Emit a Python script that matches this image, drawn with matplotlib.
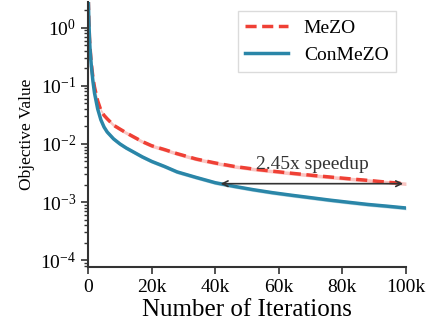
import numpy as np
import matplotlib
matplotlib.use('Agg')
import matplotlib.pyplot as plt

plt.rcParams['font.family'] = ['Liberation Serif', 'DejaVu Serif']
plt.rcParams['mathtext.fontset'] = 'stix'

iters = [0, 200, 400, 600, 1000, 1500, 2000, 3000, 4000, 5000, 6000, 8000, 10000,
         12000, 14000, 17000, 20000, 24000, 28000, 34000, 40000, 46000, 52000,
         58000, 64000, 70000, 76000, 82000, 88000, 94000, 100000]
mezo = [4.0, 1.5, 0.7, 0.45, 0.24, 0.14, 0.095, 0.055, 0.038, 0.031, 0.027, 0.021, 0.018,
        0.0155, 0.0135, 0.011, 0.0093, 0.008, 0.0068, 0.0055, 0.0047, 0.0041, 0.0037,
        0.0034, 0.00313, 0.0029, 0.0027, 0.00252, 0.00236, 0.0022, 0.00207]
conmezo = [4.0, 1.5, 0.7, 0.42, 0.22, 0.12, 0.075, 0.04, 0.026, 0.0195, 0.016, 0.0122, 0.01,
           0.0085, 0.0074, 0.006, 0.005, 0.0041, 0.0033, 0.00265, 0.00215, 0.00186, 0.00163,
           0.00145, 0.00131, 0.00119, 0.00108, 0.00099, 0.00091, 0.00085, 0.00079]
speedup = 2.45

red = '#EF4035'
blue = '#2A86A8'

def main():
    x = np.array(iters)
    m = np.array(mezo)
    c = np.array(conmezo)

    fig = plt.figure(figsize=(4.3, 3.31), dpi=100)
    ax = fig.add_axes([0.205, 0.193, 0.739, 0.802])

    ax.fill_between(x, m * 0.93, m * 1.07, color=red, alpha=0.3, lw=0)
    ax.fill_between(x, c * 0.93, c * 1.07, color=blue, alpha=0.3, lw=0)
    ax.plot(x, m, color=red, lw=2.5, ls=(0, (3.2, 1.6)), label='MeZO')
    ax.plot(x, c, color=blue, lw=2.5, label='ConMeZO')

    ax.set_yscale('log')
    ax.set_xlim(0, 100000)
    ax.set_ylim(7.6e-5, 2.8)

    end = m[-1]
    ax.annotate('', xy=(x[-1] / speedup, end), xytext=(x[-1], end),
                arrowprops=dict(arrowstyle='<->', color='#333333', lw=1.2))
    ax.text(70500, end * 1.5, '2.45x speedup', ha='center', va='bottom',
            fontsize=14, color='#333333')

    ax.set_xticks([0, 20000, 40000, 60000, 80000, 100000])
    ax.set_xticklabels(['0', '20k', '40k', '60k', '80k', '100k'])
    ax.tick_params(axis='both', which='major', labelsize=14, length=5, width=1.2, colors='#333333')
    ax.tick_params(axis='y', which='minor', length=3, width=1.0, colors='#333333')
    for lab in ax.get_xticklabels() + ax.get_yticklabels():
        lab.set_color('black')

    for s in ['top', 'right']:
        ax.spines[s].set_visible(False)
    for s in ['left', 'bottom']:
        ax.spines[s].set_linewidth(1.5)
        ax.spines[s].set_color('#333333')

    ax.set_xlabel('Number of Iterations', fontsize=18, labelpad=2)
    ax.set_ylabel('Objective Value', fontsize=12.5, labelpad=4)

    leg = ax.legend(loc='upper right', fontsize=14, fancybox=False, edgecolor='lightgray',
                    handlelength=2.2, borderaxespad=0.5, bbox_to_anchor=(1.0, 1.0))
    leg.get_frame().set_linewidth(1.0)

    fig.savefig('out.png', dpi=100)

main()
